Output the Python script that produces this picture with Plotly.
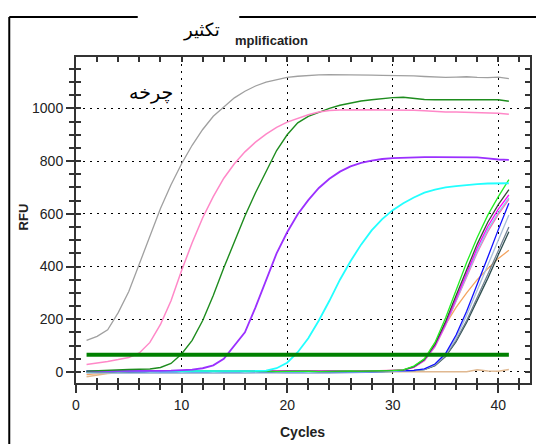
import plotly.graph_objects as go

cycles = list(range(1, 42))

# Early amplification curves (RFU per cycle)
gray = [120, 135, 160, 225, 305, 410, 510, 620, 710, 790, 860, 920, 970, 1005, 1040, 1065, 1085, 1100, 1110, 1118,
        1122, 1125, 1127, 1128, 1128, 1127, 1126, 1126, 1125, 1125, 1125, 1123, 1121, 1119, 1118, 1119, 1120, 1118,
        1117, 1119, 1113]
pink = [28, 33, 40, 47, 55, 72, 112, 180, 270, 385, 490, 585, 665, 735, 790, 835, 872, 902, 928, 948,
        963, 976, 986, 992, 994, 995, 995, 995, 994, 994, 994, 993, 991, 988, 986, 986, 985, 985, 984, 982, 978]
dgreen = [3, 5, 7, 8, 9, 10, 11, 17, 32, 68, 120, 195, 290, 395, 497, 592, 680, 760, 840, 900,
          945, 970, 986, 1000, 1012, 1021, 1028, 1033, 1037, 1041, 1042, 1037, 1034, 1033, 1033, 1033, 1033, 1033,
          1033, 1033, 1027]
purple = [3, 3, 2, 3, 4, 3, 4, 4, 5, 6, 9, 14, 25, 50, 100, 150, 245, 345, 450, 530,
          598, 652, 698, 733, 760, 780, 793, 802, 808, 811, 813, 815, 815, 815, 815, 815, 815, 814, 810, 806, 805]
cyan = [3, 3, 2, 3, 3, 2, 3, 3, 2, 3, 3, 2, 3, 3, 3, 4, 4, 5, 14, 35,
        75, 128, 195, 270, 350, 420, 483, 537, 580, 614, 640, 662, 680, 692, 700, 705, 710, 713, 715, 716, 716]

# Late amplification curves
lime = [2, 3, 2, 4, 3, 2, 3, 4, 3, 2, 3, 4, 3, 2, 3, 3, 4, 3, 2, 3,
        4, 3, 2, 3, 3, 4, 3, 3, 4, 5, 8, 22, 50, 112, 205, 310, 415, 510, 595, 665, 730]
darkline = [1, 2, 3, 2, 1, 2, 3, 2, 2, 1, 2, 3, 2, 1, 2, 3, 2, 2, 1, 2,
            3, 2, 1, 2, 3, 2, 2, 3, 3, 4, 7, 20, 47, 105, 190, 290, 390, 485, 568, 635, 692]
magenta = [4, 3, 4, 5, 4, 3, 4, 5, 4, 3, 4, 5, 4, 3, 4, 5, 4, 3, 4, 5,
           4, 3, 4, 5, 4, 3, 4, 4, 4, 5, 7, 18, 45, 100, 182, 280, 378, 470, 552, 618, 672]
lightblue = [-2, -1, 0, -2, -1, 0, -2, -1, 0, -2, -1, 0, -2, -1, 0, -2, -1, 0, -2, -1,
             0, -2, -1, 0, -1, 0, 0, 1, 1, 2, 6, 18, 44, 98, 178, 272, 368, 458, 540, 605, 660]
hotpink = [5, 6, 5, 4, 5, 6, 5, 4, 5, 6, 5, 4, 5, 6, 5, 4, 5, 6, 5, 4,
           5, 6, 5, 4, 5, 6, 5, 4, 5, 6, 8, 17, 42, 95, 175, 268, 362, 452, 532, 598, 655]
blue = [0, 1, 0, -1, 0, 1, 0, -1, 0, 1, 0, -1, 0, 1, 0, -1, 0, 1, 0, -1,
        0, 1, 0, -1, 0, 1, 0, 0, 1, 2, 3, 6, 12, 30, 70, 140, 230, 330, 435, 540, 640]
lsteel = [-4, -3, -4, -5, -4, -3, -4, -5, -4, -3, -4, -5, -4, -3, -4, -5, -4, -3, -4, -5,
          -4, -3, -4, -5, -4, -3, -3, -2, -1, 0, 2, 5, 10, 28, 65, 130, 215, 310, 405, 500, 595]
slate = [1, 2, 1, 2, 1, 2, 1, 2, 1, 2, 1, 2, 1, 2, 1, 2, 1, 2, 1, 2,
         1, 2, 1, 2, 1, 2, 1, 2, 2, 3, 4, 6, 10, 25, 60, 120, 195, 280, 370, 460, 550]
dslate = [-1, 0, -1, 0, -1, 0, -1, 0, -1, 0, -1, 0, -1, 0, -1, 0, -1, 0, -1, 0,
          -1, 0, -1, 0, -1, 0, -1, 0, 0, 1, 3, 5, 9, 24, 58, 115, 188, 270, 355, 445, 532]
orange = [-10, -6, -2, 0, 1, 2, 3, 2, 1, 2, 3, 2, 1, 2, 3, 2, 1, 2, 3, 2,
          1, 2, 3, 2, 1, 2, 3, 2, 3, 4, 8, 20, 50, 110, 180, 245, 300, 350, 392, 430, 462]
tan = [-18, -12, -6, -3, 0, 1, 1, 0, 1, 1, 0, 1, 1, 0, 1, 1, 0, 1, 1, 0,
       1, 1, 0, 1, 1, 0, 1, 1, 0, 1, 1, 0, 1, 1, 0, 1, 1, 8, 4, 3, 9]

threshold = 65

late_series = [
    (tan, "#E0B890", 1.5),
    (orange, "#F4A460", 1.3),
    (dslate, "#2F4F4F", 1.3),
    (slate, "#708090", 1.3),
    (lsteel, "#A8BED8", 1.3),
    (blue, "#1010FF", 1.3),
    (hotpink, "#FF69B4", 1.3),
    (lightblue, "#87CEEB", 1.3),
    (magenta, "#FF00FF", 1.3),
    (darkline, "#3A4A3A", 1.3),
    (lime, "#22EE22", 1.3),
]
early_series = [
    (cyan, "#22FFFF", 1.8),
    (purple, "#9B30FF", 1.8),
    (dgreen, "#1E8C1E", 1.4),
    (pink, "#FF88C8", 1.5),
    (gray, "#A0A0A0", 1.3),
]

fig = go.Figure()
for vals, col, w in late_series + early_series:
    fig.add_trace(go.Scatter(x=cycles, y=vals, mode="lines", line=dict(color=col, width=w),
                             showlegend=False, hoverinfo="skip"))
fig.add_trace(go.Scatter(x=[cycles[0], cycles[-1]], y=[threshold, threshold], mode="lines",
                         line=dict(color="#008000", width=4), showlegend=False, hoverinfo="skip"))
# invisible trace to activate overlay axis
fig.add_trace(go.Scatter(x=[cycles[0]], y=[threshold], mode="markers", marker=dict(opacity=0),
                         xaxis="x2", yaxis="y2", showlegend=False, hoverinfo="skip"))

XR = [0, 43]
YR = [-42, 1195]
narrow = "Liberation Sans Narrow, Arial Narrow, Liberation Sans, Arial"
tickfont = dict(family=narrow, size=14, color="#222")

fig.update_layout(
    width=536, height=436,
    margin=dict(l=68, r=12, t=49, b=61),
    paper_bgcolor="white", plot_bgcolor="white",
    xaxis=dict(range=XR, showline=True, linecolor="#333", linewidth=2, mirror=True,
               ticks="outside", ticklen=8, tickwidth=2, tickcolor="#333", dtick=10, tick0=0,
               minor=dict(ticks="outside", ticklen=5, tickwidth=1.5, tickcolor="#333", dtick=2, showgrid=False),
               showgrid=True, gridcolor="black", gridwidth=1, griddash="2px,5px",
               zeroline=False, tickfont=tickfont),
    yaxis=dict(range=YR, showline=True, linecolor="#333", linewidth=2, mirror=True,
               ticks="outside", ticklen=8, tickwidth=2, tickcolor="#333", dtick=200, tick0=0,
               minor=dict(ticks="outside", ticklen=5, tickwidth=1.5, tickcolor="#333", dtick=50, showgrid=False),
               showgrid=True, gridcolor="black", gridwidth=1, griddash="2px,5px",
               zeroline=False, tickfont=tickfont),
    xaxis2=dict(range=XR, overlaying="x", anchor="y", side="bottom", showline=False, mirror="ticks",
                ticks="inside", ticklen=5, tickwidth=1.5, tickcolor="#333", dtick=2, tick0=0,
                showticklabels=False, showgrid=False, zeroline=False),
    yaxis2=dict(range=YR, overlaying="y", anchor="x", side="left", showline=False, mirror="ticks",
                ticks="inside", ticklen=5, tickwidth=1.5, tickcolor="#333", dtick=50, tick0=0,
                showticklabels=False, showgrid=False, zeroline=False),
    shapes=[
        dict(type="rect", xref="paper", yref="paper", x0=0.035, x1=0.261, y0=0.80, y1=0.982,
             fillcolor="white", line=dict(width=0), layer="between"),
        dict(type="line", xref="paper", yref="paper", x0=-0.147, x1=0.136, y0=1.1227, y1=1.1227,
             line=dict(color="black", width=2)),
        dict(type="line", xref="paper", yref="paper", x0=0.3596, x1=1.1, y0=1.1227, y1=1.1227,
             line=dict(color="black", width=2)),
        dict(type="line", xref="paper", yref="paper", x0=-0.147, x1=-0.147, y0=1.1227, y1=-0.25,
             line=dict(color="black", width=2)),
    ],
    annotations=[
        dict(text="تکثیر", xref="paper", yref="paper", x=0.276, y=1.083, showarrow=False,
             xanchor="center", yanchor="middle",
             font=dict(family="DejaVu Sans, Noto Sans", size=18, color="black")),
        dict(text="<b>mplification</b>", xref="paper", yref="paper", x=0.43, y=1.052, showarrow=False,
             xanchor="center", yanchor="middle",
             font=dict(family=narrow, size=13, color="#222")),
        dict(text="چرخه", xref="paper", yref="paper", x=0.1645, y=0.8896, showarrow=False,
             xanchor="center", yanchor="middle",
             font=dict(family="DejaVu Sans, Noto Sans", size=19, color="black")),
        dict(text="<b>Cycles</b>", xref="paper", yref="paper", x=0.498, y=-0.150, showarrow=False,
             xanchor="center", yanchor="middle",
             font=dict(family=narrow, size=14, color="#222")),
        dict(text="<b>RFU</b>", xref="paper", yref="paper", x=-0.116, y=0.509, showarrow=False,
             xanchor="center", yanchor="middle", textangle=-90,
             font=dict(family=narrow, size=13, color="#222")),
    ],
)

fig.write_html("out.html", config={"displayModeBar": False})
